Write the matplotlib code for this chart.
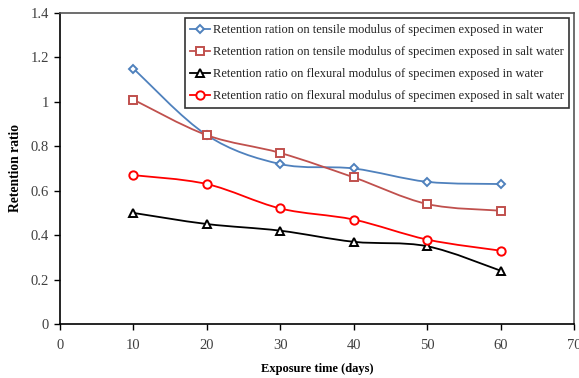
import matplotlib
matplotlib.use("Agg")
import matplotlib.pyplot as plt
import numpy as np
from matplotlib.path import Path
from matplotlib.patches import PathPatch
from matplotlib.lines import Line2D

plt.rcParams['font.family'] = ['Liberation Serif', 'DejaVu Serif']

days = [10, 20, 30, 40, 50, 60]
tensile_water = [1.15, 0.85, 0.72, 0.70, 0.64, 0.63]
tensile_salt = [1.01, 0.85, 0.77, 0.66, 0.54, 0.51]
flexural_water = [0.50, 0.45, 0.42, 0.37, 0.35, 0.24]
flexural_salt = [0.67, 0.63, 0.52, 0.47, 0.38, 0.33]

labels = [
    "Retention ration on tensile modulus of specimen exposed in water",
    "Retention ration on tensile modulus of specimen exposed in salt water",
    "Retention ratio on flexural modulus of specimen exposed in water",
    "Retention ratio on flexural modulus of specimen exposed in salt water",
]


def smooth_path(x, y):
    # Catmull-Rom style smoothing like Excel's "smoothed line"
    pts = np.column_stack([x, y]).astype(float)
    n = len(pts)
    verts = [pts[0]]
    codes = [Path.MOVETO]
    for i in range(n - 1):
        p0 = pts[i - 1] if i > 0 else pts[i]
        p1 = pts[i]
        p2 = pts[i + 1]
        p3 = pts[i + 2] if i + 2 < n else pts[i + 1]
        c1 = p1 + (p2 - p0) / 6.0
        c2 = p2 - (p3 - p1) / 6.0
        verts += [c1, c2, p2]
        codes += [Path.CURVE4] * 3
    return Path(verts, codes)


fig = plt.figure(figsize=(5.79, 3.78), dpi=100)
ax = fig.add_axes([0.1036, 0.1429, 0.8878, 0.8227])

styles = [
    (tensile_water, '#4F81BD', 'D', 4.5),
    (tensile_salt, '#C0504D', 's', 6),
    (flexural_water, 'black', '^', 6),
    (flexural_salt, '#FF0000', 'o', 6),
]

handles = []
for (vals, col, mk, ms), lab in zip(styles, labels):
    patch = PathPatch(smooth_path(days, vals), facecolor='none', edgecolor=col,
                      lw=1.3, zorder=2)
    ax.add_patch(patch)
    ax.plot(days, vals, linestyle='none', marker=mk, ms=ms, mfc='white',
            mec=col, mew=1.4, zorder=3)
    handles.append(Line2D([], [], color=col, lw=1.3, marker=mk, ms=ms,
                          mfc='white', mec=col, mew=1.4, label=lab))

ax.set_xlim(0, 70)
ax.set_ylim(0, 1.4)
ax.set_xticks(range(0, 71, 10))
ax.set_yticks(np.arange(0, 1.41, 0.2))
ax.set_yticklabels(['0', '0.2', '0.4', '0.6', '0.8', '1', '1.2', '1.4'])

ax.tick_params(direction='out', length=4, width=1, labelsize=10.5,
               labelcolor='#404040')
ax.tick_params(axis='y', pad=4)
ax.tick_params(axis='x', pad=7)
for side in ['left', 'bottom']:
    ax.spines[side].set_color('black')
    ax.spines[side].set_linewidth(1.2)
for side in ['top', 'right']:
    ax.spines[side].set_color('#555555')
    ax.spines[side].set_linewidth(1.2)

ax.set_xlabel('Exposure time (days)', fontsize=9, fontweight='bold', labelpad=8)
ax.set_ylabel('Retention ratio', fontsize=9.8, fontweight='bold', labelpad=6)

leg = ax.legend(handles=handles, loc='upper right', bbox_to_anchor=(0.9905, 0.983),
                fontsize=9, frameon=True, fancybox=False, handlelength=1.6,
                handletextpad=0.2, borderpad=0.45, labelspacing=0.8,
                borderaxespad=0)
leg.get_frame().set_edgecolor('#333333')
leg.get_frame().set_linewidth(1.2)
leg.get_frame().set_alpha(1)
for t in leg.get_texts():
    t.set_color('#222222')

fig.savefig('out.png', dpi=100)
